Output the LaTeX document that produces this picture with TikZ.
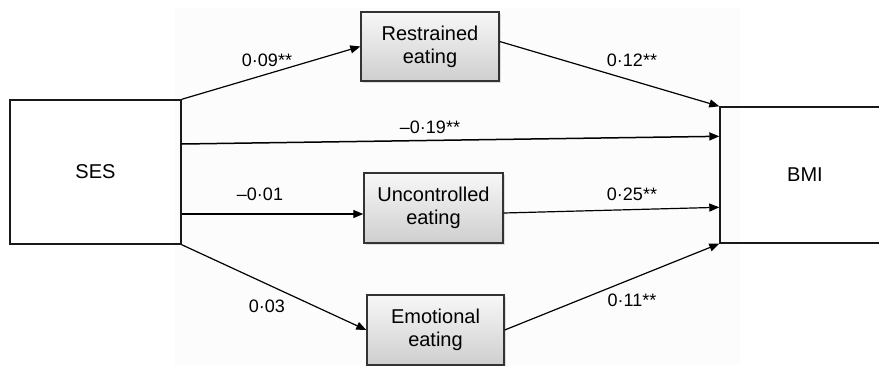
\documentclass[tikz,border=0pt]{standalone}
\usepackage{fontspec}
\setmainfont{Liberation Sans}
\usetikzlibrary{arrows.meta,shadows}

\begin{document}
\begin{tikzpicture}[x=1pt,y=-1pt,
    var/.style={draw=black!90,line width=1.4pt,minimum width=171pt,minimum height=144pt,
        text=black,font=\fontsize{20}{23}\selectfont},
    med/.style={draw=black!80,line width=1.4pt,top color=gray!6,bottom color=gray!38,
        align=center,inner sep=0pt,minimum width=138pt,minimum height=69pt,
        text=black,font=\fontsize{20}{23}\selectfont,
        drop shadow={shadow xshift=1.5pt,shadow yshift=-1.5pt,opacity=0.25}},
    link/.style={line width=1.2pt,black,-{Triangle[length=10pt,width=8pt]}},
    coef/.style={text=black,font=\fontsize{18}{20}\selectfont}]

    \useasboundingbox (0,0) rectangle (879,365);
    \fill[gray!2] (175,8) rectangle (740,365);

    % Place the outer variables
    \node[var] (ses) at (95.5,172) {SES};
    \node[var,minimum width=170pt,minimum height=136pt] (bmi) at (805,175) {BMI};

    % Place the mediators
    \node[med] (rest) at (430,46.5) {Restrained\\eating};
    \node[med,minimum width=139pt,minimum height=70pt] (unc) at (433.5,208) {Uncontrolled\\eating};
    \node[med,minimum width=137pt,minimum height=70pt] (emo) at (435.5,330) {Emotional\\eating};

    % Draw the paths
    \draw[link] (ses.north east) -- (rest.west);
    \draw[link] ([yshift=5pt]rest.east) -- (bmi.north west);
    \draw[link,line width=1.5pt] ([yshift=28pt]ses.east) -- ([yshift=-30pt]bmi.north west);
    \draw[link] ([yshift=-42pt]ses.east) -- ([yshift=-6pt]unc.west);
    \draw[link] ([yshift=-5pt]unc.east) -- ([yshift=-101pt]bmi.north west);
    \draw[link] (ses.south east) -- (emo.west);
    \draw[link] (emo.east) -- (bmi.south west);

    % Place the coefficients
    \node[coef] (c1) at (267,60) {0·09**};
    \node[coef] (c2) at (632,60) {0·12**};
    \node[coef] (c3) at (430,127) {–0·19**};
    \node[coef] (c4) at (260,194) {–0·01};
    \node[coef] (c5) at (632,194) {0·25**};
    \node[coef] (c6) at (267,306) {0·03};
    \node[coef] (c7) at (632,300) {0·11**};

\end{tikzpicture}
\end{document}
